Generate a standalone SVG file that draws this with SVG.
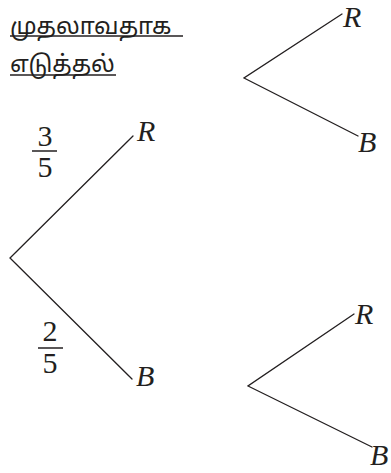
<svg xmlns="http://www.w3.org/2000/svg" width="391" height="473" viewBox="0 0 391 473">
<style>
.e{stroke:#231f20;stroke-width:1.3;fill:none;stroke-linecap:round}
.v{font-family:"Liberation Serif","Times New Roman",serif;font-style:italic;font-size:30px;fill:#231f20}
.n{font-family:"Liberation Serif","Times New Roman",serif;font-size:30px;fill:#231f20;text-anchor:middle}
.t{font-family:"Noto Sans","Noto Sans Tamil","Lohit Tamil",sans-serif;font-size:23.5px;fill:#231f20}
.u{stroke:#231f20;stroke-width:1.5}
</style>
<rect width="391" height="473" fill="#fff"/>
<g id="title">
<text class="t" x="10" y="34">முதலாவதாக</text>
<line class="u" x1="10" y1="36" x2="183" y2="36" stroke="#808080"/>
<text class="t" x="10" y="72">எடுத்தல்</text>
<line class="u" x1="10" y1="75" x2="116" y2="75"/>
</g>
<g id="connectors">
<polyline class="e" points="133,136 10,258 132,379"/>
<polyline class="e" points="342,14 244,78 358,136"/>
<polyline class="e" points="354,314 248,386 372,447"/>
</g>
<g id="root-labels">
<text class="n" x="45" y="146">3</text>
<line class="u" x1="32" y1="151" x2="57" y2="151"/>
<text class="n" x="45" y="177">5</text>
<text class="n" x="50" y="341">2</text>
<line class="u" x1="38" y1="348" x2="63" y2="348"/>
<text class="n" x="50" y="373">5</text>
</g>
<g id="n-R1"><text class="v" x="137" y="141">R</text></g>
<g id="n-B1"><text class="v" x="136" y="386">B</text></g>
<g id="n-R2"><text class="v" x="343" y="27">R</text></g>
<g id="n-B2"><text class="v" x="358" y="152">B</text></g>
<g id="n-R3"><text class="v" x="355" y="324">R</text></g>
<g id="n-B3"><text class="v" x="370" y="465">B</text></g>
</svg>
